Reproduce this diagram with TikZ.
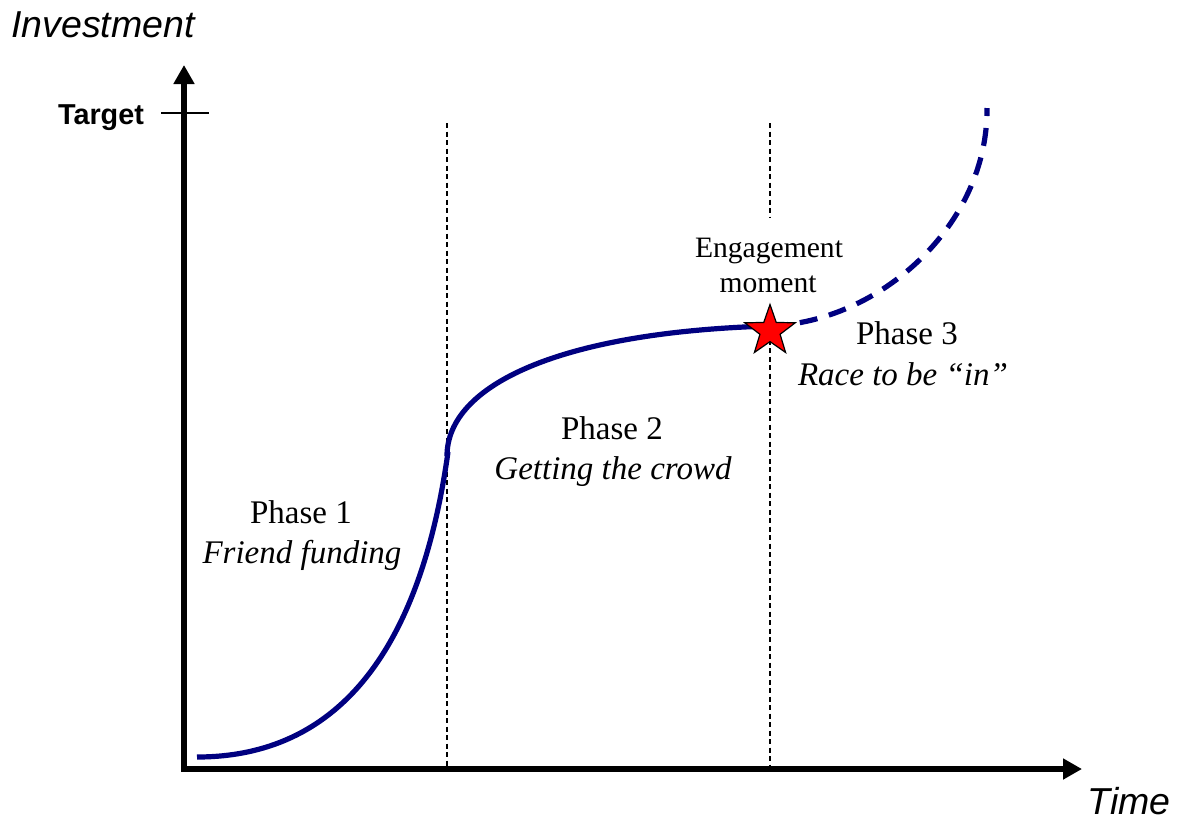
\documentclass[tikz,border=0pt]{standalone}
\usepackage{fontspec}
\setmainfont{Liberation Serif}
\newfontfamily\arialfont{Liberation Sans}
\usetikzlibrary{arrows.meta,shapes.geometric}
\definecolor{curvenavy}{RGB}{0,0,128}
\definecolor{starred}{RGB}{255,0,0}
\tikzset{
  axisline/.style={line width=6pt,-{Triangle[width=20pt,length=19pt]}},
  guide/.style={line width=1.2pt,dash pattern=on 5pt off 3.5pt},
  growth/.style={curvenavy,line width=5.2pt},
  growthdash/.style={curvenavy,line width=5.2pt,dash pattern=on 18pt off 12pt},
  phasetxt/.style={font=\fontsize{33}{38}\selectfont,anchor=base,inner sep=0pt},
  phaseit/.style={font=\fontsize{33}{38}\selectfont\itshape,anchor=base,inner sep=0pt},
  engtxt/.style={font=\fontsize{29.6}{34}\selectfont,anchor=base,inner sep=0pt},
  axlabel/.style={font=\arialfont\itshape\fontsize{37.5}{42}\selectfont,anchor=base,inner sep=0pt},
  ticklabel/.style={font=\arialfont\bfseries\fontsize{28.8}{34}\selectfont,anchor=base,inner sep=0pt},
  starmark/.style={star,star points=5,star point ratio=2.5,minimum size=53pt,inner sep=0pt,draw=black,line width=1.2pt,fill=starred}
}
\begin{document}
\begin{tikzpicture}[x=1pt,y=-1pt]
\useasboundingbox (0,0) rectangle (1181,823);
% key coordinates
\coordinate (o) at (184,769);
\coordinate (ytip) at (184,65);
\coordinate (xtip) at (1082,769);
\coordinate (tickl) at (161,113);
\coordinate (tickr) at (209,113);
\coordinate (v1top) at (447,123);
\coordinate (v1bot) at (447,769);
\coordinate (v2top) at (770,123);
\coordinate (v2mid) at (770,217);
\coordinate (v2bot) at (770,769);
\coordinate (c0) at (197,757);
\coordinate (c1) at (448,452);
\coordinate (c2) at (447,456);
\coordinate (c3) at (770,326);
\coordinate (c4) at (987,108);
% guide lines
\draw[guide] (v1top) -- (v1bot);
\draw[guide] (v2top) -- (v2mid);
\node[starmark,draw=none,fill=none] (starpos) at (770,331) {};
\draw[guide] (starpos.center) -- (v2bot);
% axes
\draw[axisline] ([yshift=3pt]o) -- (ytip);
\draw[axisline] ([xshift=-3pt]o) -- (xtip);
\draw[line width=1.3pt] (tickl) -- (tickr);
% growth curve
\draw[growth] (c0) .. controls (337,757) and (420,652) .. (c1);
\draw[growth] (c2) .. controls (447,385) and (560,332) .. (c3);
\draw[growthdash] (c3) .. controls (880,322) and (988,225) .. (c4);
% star
\node[starmark] (star) at (770,331) {};
% labels
\node[axlabel] (inv) at (103,37) {Investment};
\node[ticklabel] (tgt) at (101,124) {Target};
\node[axlabel] (time) at (1129,814) {Time};
\node[phasetxt] (p1a) at (301,523) {Phase 1};
\node[phaseit] (p1b) at (302,563) {Friend funding};
\node[phasetxt] (p2a) at (612,439) {Phase 2};
\node[phaseit] (p2b) at (613,479) {Getting the crowd};
\node[phasetxt] (p3a) at (907,344) {Phase 3};
\node[phaseit] (p3b) at (903,385) {Race to be “in”};
\node[engtxt] (enga) at (769,257) {Engagement};
\node[engtxt] (engb) at (768,292) {moment};
\end{tikzpicture}
\end{document}
